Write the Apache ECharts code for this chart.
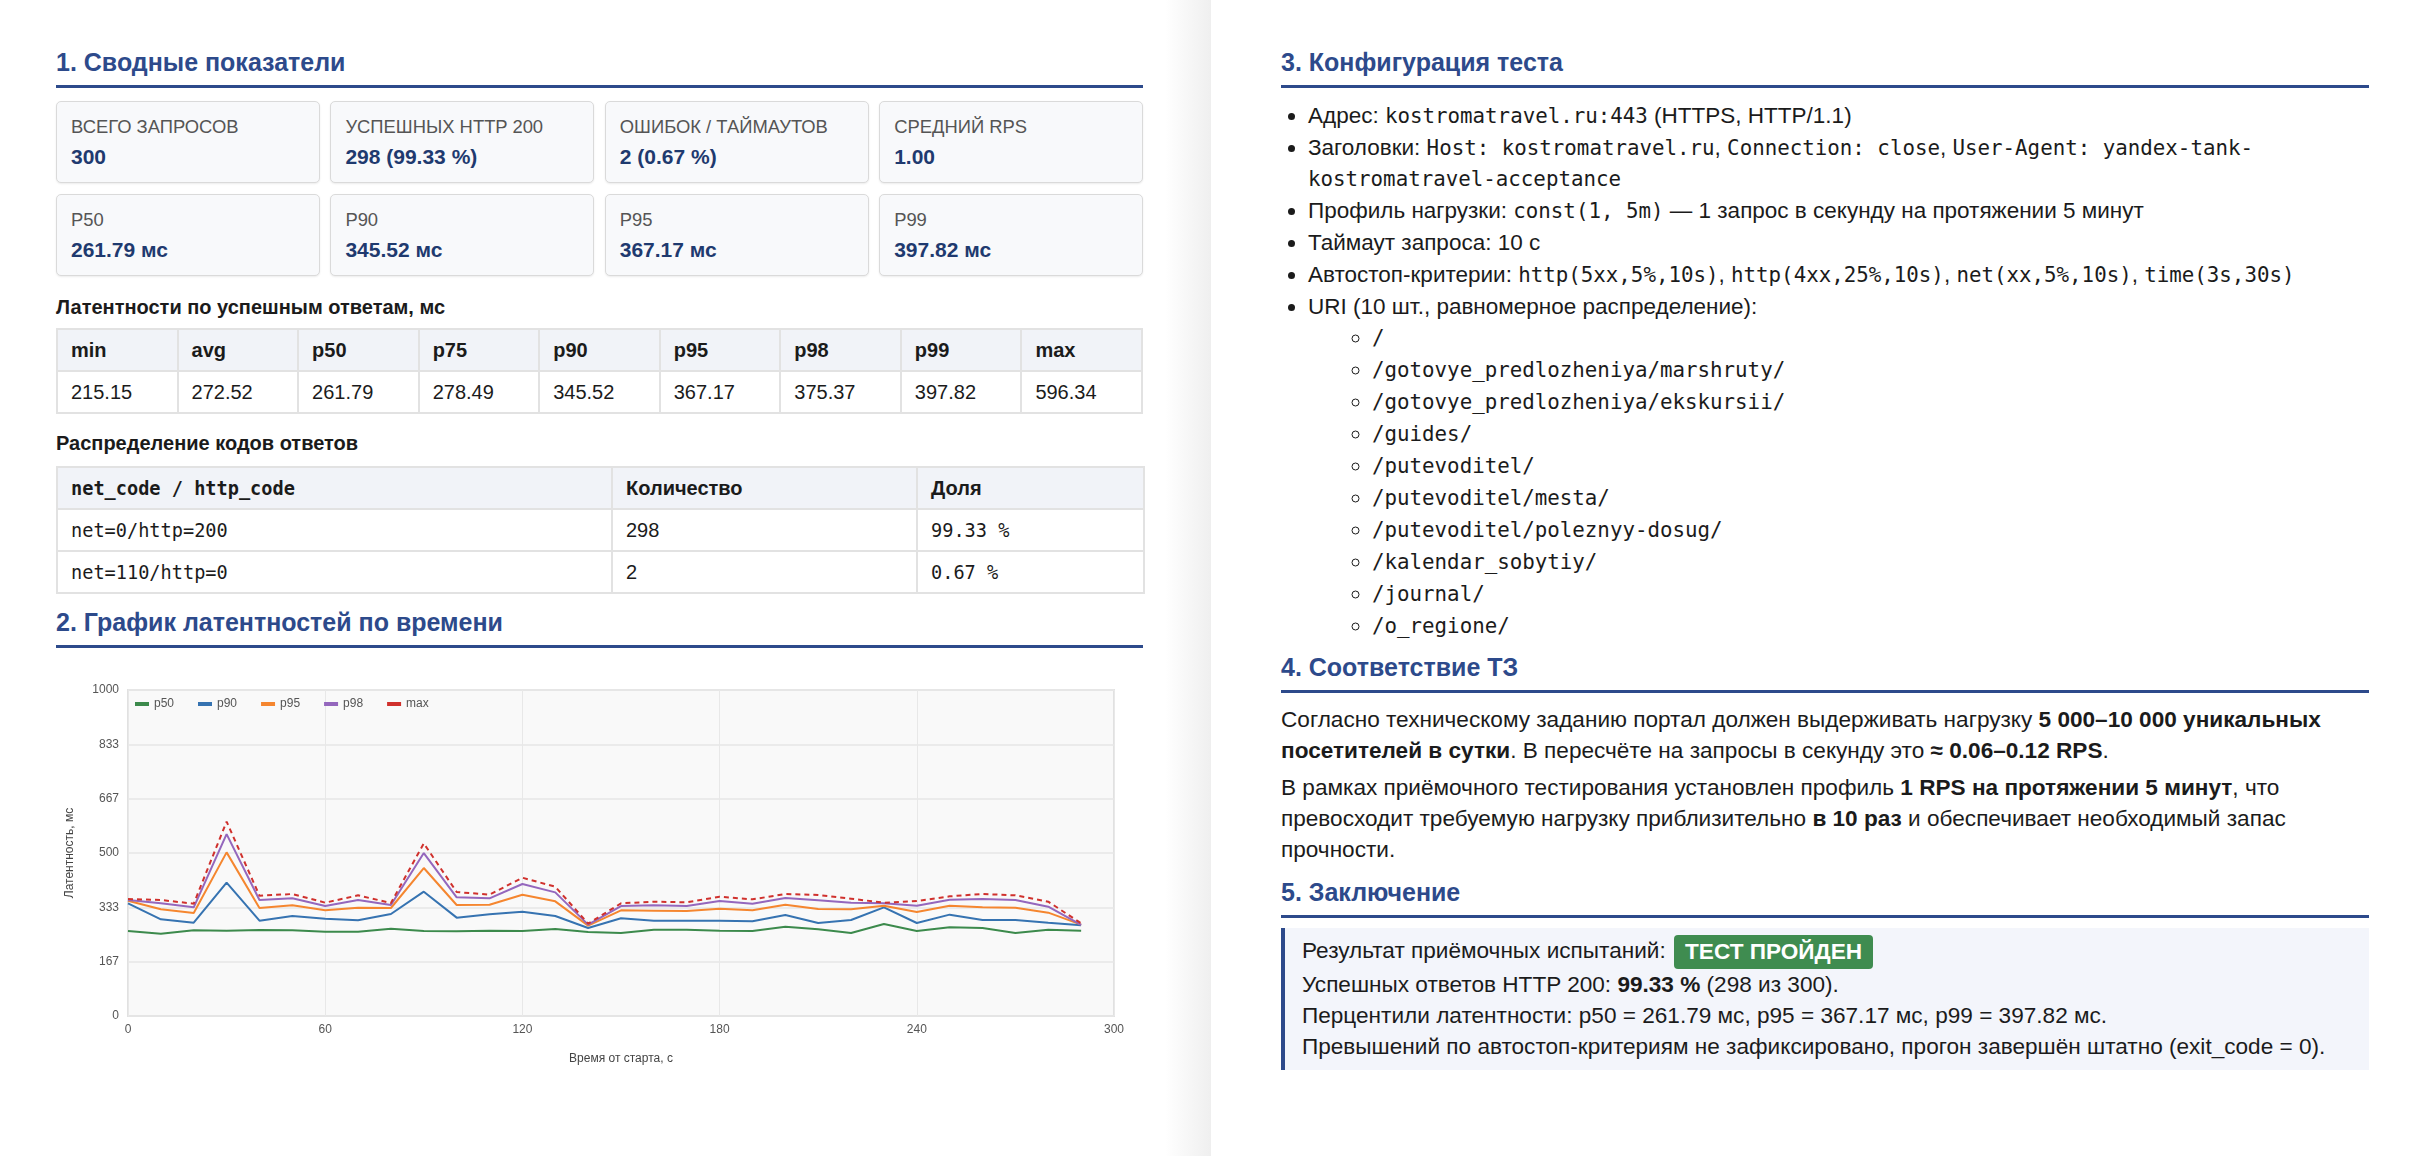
<!DOCTYPE html>
<html lang="ru">
<head>
<meta charset="utf-8">
<title>Отчёт о нагрузочном тестировании</title>
<script src="https://cdn.jsdelivr.net/npm/echarts@6/dist/echarts.min.js"></script>
<style>
  html, body { margin: 0; padding: 0; }
  body { width: 2424px; height: 1156px; overflow: hidden; position: relative;
         font-family: "Liberation Sans", Arial, Helvetica, sans-serif; color: #1b1b1b; background: #fff; }
  code, .mono { font-family: "DejaVu Sans Mono", monospace; }
  .page-left { position: absolute; left: 0; top: 0; width: 1211px; height: 1156px;
               background: linear-gradient(to right, #fff 0, #fff 1165px, #efefef 1211px); }
  .page-right { position: absolute; left: 1211px; top: 0; width: 1213px; height: 1156px; background: #fff; }
  .h { position: absolute; margin: 0; font-size: 25px; font-weight: bold; color: #2d4a8b;
       line-height: 36px; padding-bottom: 5px; border-bottom: 3px solid #2d4a8b; }
  .l { left: 56px; width: 1087px; }
  .r { left: 1281px; width: 1088px; }
  .cards { position: absolute; left: 56px; width: 1087px; display: flex; gap: 10.5px; }
  .card { flex: 1; height: 80px; border: 1px solid #dadada; border-radius: 5px; background: #f8f9fb;
          box-shadow: 0 1px 2px rgba(0,0,0,.08); position: relative; }
  .card .lab { position: absolute; left: 14px; top: 13px; font-size: 18.4px; color: #555; text-transform: uppercase; line-height: 24px; }
  .card .val { position: absolute; left: 14px; top: 42px; font-size: 21px; font-weight: bold; color: #1f3a6f; line-height: 26px; }
  .sub { position: absolute; left: 56px; margin: 0; font-size: 20px; font-weight: bold; line-height: 24px; }
  table { position: absolute; left: 56px; width: 1087px; border-collapse: collapse; font-size: 20px; table-layout: fixed; }
  td, th { border: 2px solid #e2e2e2; padding: 0 13px; height: 40px; text-align: left; }
  th { background: #f1f3f8; font-weight: bold; }
  td.mono, th.mono { font-size: 18.6px; }
  #chart { position: absolute; left: 56px; top: 660px; width: 1087px; height: 430px; }
  ul { margin: 0; padding: 0; list-style: disc; }
  .cfg { position: absolute; left: 1281px; top: 100px; width: 1088px; font-size: 22.5px; line-height: 31px; }
  .cfg > li { margin-left: 27px; margin-bottom: 1px; }
  .cfg ul { list-style: circle; }
  .cfg ul li { margin-left: 64px; margin-bottom: 1px; }
  .cfg code { font-size: 20.8px; line-height: 1; }
  .txt { position: absolute; left: 1281px; width: 1088px; margin: 0; font-size: 22.6px; line-height: 31px; white-space: nowrap; }
  .box { position: absolute; left: 1281px; top: 928px; width: 1067px; height: 129px; background: #f3f5fb;
         border-left: 4px solid #2d4a8b; padding: 5px 0 8px 17px; font-size: 22.6px; line-height: 31px; box-sizing: content-box; }
  .box div { white-space: nowrap; }
  .box .first { height: 36px; line-height: 36px; }
  .badge { display: inline-block; background: #3f8c50; color: #fff; font-weight: bold; border-radius: 4px;
           padding: 0 11px; line-height: 34px; height: 34px; vertical-align: middle; margin-left: 2px; }
</style>
</head>
<body>
<div class="page-left"></div>
<div class="page-right"></div>

<h2 class="h l" style="top:44px">1. Сводные показатели</h2>
<div class="cards" style="top:101px">
  <div class="card"><div class="lab">Всего запросов</div><div class="val">300</div></div>
  <div class="card"><div class="lab">Успешных HTTP 200</div><div class="val">298 (99.33 %)</div></div>
  <div class="card"><div class="lab">Ошибок / таймаутов</div><div class="val">2 (0.67 %)</div></div>
  <div class="card"><div class="lab">Средний RPS</div><div class="val">1.00</div></div>
</div>
<div class="cards" style="top:194px">
  <div class="card"><div class="lab">P50</div><div class="val">261.79 мс</div></div>
  <div class="card"><div class="lab">P90</div><div class="val">345.52 мс</div></div>
  <div class="card"><div class="lab">P95</div><div class="val">367.17 мс</div></div>
  <div class="card"><div class="lab">P99</div><div class="val">397.82 мс</div></div>
</div>

<h3 class="sub" style="top:295px">Латентности по успешным ответам, мс</h3>
<table style="top:328px">
  <tr><th>min</th><th>avg</th><th>p50</th><th>p75</th><th>p90</th><th>p95</th><th>p98</th><th>p99</th><th>max</th></tr>
  <tr><td>215.15</td><td>272.52</td><td>261.79</td><td>278.49</td><td>345.52</td><td>367.17</td><td>375.37</td><td>397.82</td><td>596.34</td></tr>
</table>

<h3 class="sub" style="top:431px">Распределение кодов ответов</h3>
<table style="top:466px">
  <colgroup><col style="width:555px"><col style="width:305px"><col style="width:227px"></colgroup>
  <tr><th class="mono">net_code / http_code</th><th>Количество</th><th>Доля</th></tr>
  <tr><td class="mono">net=0/http=200</td><td>298</td><td class="mono">99.33 %</td></tr>
  <tr><td class="mono">net=110/http=0</td><td>2</td><td class="mono">0.67 %</td></tr>
</table>

<h2 class="h l" style="top:604px">2. График латентностей по времени</h2>
<div id="chart"></div>

<h2 class="h r" style="top:44px">3. Конфигурация теста</h2>
<ul class="cfg">
  <li>Адрес: <code>kostromatravel.ru:443</code> (HTTPS, HTTP/1.1)</li>
  <li>Заголовки: <code>Host: kostromatravel.ru</code>, <code>Connection: close</code>, <code>User-Agent: yandex-tank-</code><br><code>kostromatravel-acceptance</code></li>
  <li>Профиль нагрузки: <code>const(1, 5m)</code> — 1 запрос в секунду на протяжении 5 минут</li>
  <li>Таймаут запроса: 10 с</li>
  <li>Автостоп-критерии: <code>http(5xx,5%,10s)</code>, <code>http(4xx,25%,10s)</code>, <code>net(xx,5%,10s)</code>, <code>time(3s,30s)</code></li>
  <li>URI (10 шт., равномерное распределение):
    <ul>
      <li><code>/</code></li>
      <li><code>/gotovye_predlozheniya/marshruty/</code></li>
      <li><code>/gotovye_predlozheniya/ekskursii/</code></li>
      <li><code>/guides/</code></li>
      <li><code>/putevoditel/</code></li>
      <li><code>/putevoditel/mesta/</code></li>
      <li><code>/putevoditel/poleznyy-dosug/</code></li>
      <li><code>/kalendar_sobytiy/</code></li>
      <li><code>/journal/</code></li>
      <li><code>/o_regione/</code></li>
    </ul>
  </li>
</ul>

<h2 class="h r" style="top:649px">4. Соответствие ТЗ</h2>
<p class="txt" style="top:704px">Согласно техническому заданию портал должен выдерживать нагрузку <b>5 000–10 000 уникальных</b><br><b>посетителей в сутки</b>. В пересчёте на запросы в секунду это <b>≈ 0.06–0.12 RPS</b>.</p>
<p class="txt" style="top:772px">В рамках приёмочного тестирования установлен профиль <b>1 RPS на протяжении 5 минут</b>, что<br>превосходит требуемую нагрузку приблизительно <b>в 10 раз</b> и обеспечивает необходимый запас<br>прочности.</p>

<h2 class="h r" style="top:874px">5. Заключение</h2>
<div class="box">
  <div class="first">Результат приёмочных испытаний: <span class="badge">ТЕСТ ПРОЙДЕН</span></div>
  <div>Успешных ответов HTTP 200: <b>99.33 %</b> (298 из 300).</div>
  <div>Перцентили латентности: p50 = 261.79 мс, p95 = 367.17 мс, p99 = 397.82 мс.</div>
  <div>Превышений по автостоп-критериям не зафиксировано, прогон завершён штатно (exit_code = 0).</div>
</div>

<script>
// время от старта, с
var times = [0, 10, 20, 30, 40, 50, 60, 70, 80, 90, 100, 110, 120, 130, 140,
             150, 160, 170, 180, 190, 200, 210, 220, 230, 240, 250, 260, 270, 280, 290];
// латентности, мс
var p50 = [260.8, 252.6, 262.9, 261.8, 263.9, 262.9, 258.8, 258.8, 268.0, 260.8, 259.8, 261.8, 260.8, 267.0, 257.8,
           254.7, 264.9, 264.9, 261.8, 260.8, 274.1, 265.9, 254.7, 282.2, 260.8, 272.0, 270.0, 254.7, 264.9, 261.8];
var p90 = [345.6, 296.6, 286.3, 408.9, 292.5, 306.8, 298.6, 293.5, 312.9, 381.3, 301.7, 311.9, 320.0, 306.8, 270.0,
           299.6, 292.5, 292.5, 292.5, 290.4, 309.8, 285.3, 294.5, 333.3, 285.3, 310.9, 294.5, 294.5, 286.3, 278.2];
var p95 = [353.8, 327.2, 316.0, 501.9, 331.3, 339.5, 324.1, 332.3, 331.3, 453.9, 340.5, 341.5, 372.1, 351.7, 277.1,
           324.1, 323.1, 322.1, 329.2, 324.1, 341.5, 328.2, 327.2, 338.4, 319.0, 338.4, 333.3, 332.3, 317.0, 280.2];
var p98 = [355.8, 345.6, 333.3, 558.0, 355.8, 360.9, 337.4, 355.8, 340.5, 499.8, 364.0, 360.9, 404.8, 379.3, 280.2,
           337.4, 339.5, 337.4, 352.7, 344.6, 361.9, 354.8, 347.6, 345.6, 338.4, 356.9, 358.9, 355.8, 335.4, 279.2];
var pmax = [358.9, 355.8, 344.6, 596.3, 369.1, 374.2, 347.6, 370.1, 346.6, 529.4, 380.3, 372.1, 424.2, 396.7, 283.3,
            345.6, 350.7, 348.7, 366.0, 357.8, 374.2, 371.1, 359.9, 347.6, 352.7, 367.0, 374.2, 370.1, 350.7, 284.3];
var seriesNames = ['p50', 'p90', 'p95', 'p98', 'max'];
var seriesColors = ['#3c8a4c', '#3673b1', '#f5862f', '#9467bd', '#d0312d'];

function pairs(values) {
	return times.map(function(t, i) { return [t, values[i]]; });
}

var latencyChart = echarts.init(document.getElementById('chart'));
var allValues = [p50, p90, p95, p98, pmax];
var latencyOption = {
	animation : false,
	textStyle : { fontFamily : 'Liberation Sans, Arial, sans-serif' },
	legend : {
		data : seriesNames,
		left : 79,
		top : 38,
		padding : 0,
		icon : 'rect',
		itemWidth : 14,
		itemHeight : 4,
		itemGap : 24,
		textStyle : { fontSize : 12, color : '#555' }
	},
	grid : {
		left : 69,
		right : 29,
		top : 30,
		bottom : 74,
		show : true,
		backgroundColor : '#f9f9f9',
		borderColor : '#e1e1e1',
		borderWidth : 2
	},
	xAxis : {
		type : 'value',
		min : 0,
		max : 300,
		interval : 60,
		name : 'Время от старта, с',
		nameLocation : 'middle',
		nameGap : 37,
		nameTextStyle : { fontSize : 12, color : '#444' },
		axisLine : { show : false },
		axisTick : { show : false },
		axisLabel : { fontSize : 12, color : '#555', margin : 8 },
		splitLine : { lineStyle : { color : '#e8e8e8' } }
	},
	yAxis : {
		type : 'value',
		min : 0,
		max : 1000,
		interval : 1000 / 6,
		name : 'Латентность, мс',
		nameLocation : 'middle',
		nameGap : 52,
		nameTextStyle : { fontSize : 12, color : '#444' },
		axisLine : { show : false },
		axisTick : { show : false },
		axisLabel : {
			fontSize : 12,
			color : '#555',
			margin : 9,
			formatter : function(v) { return Math.round(v); }
		},
		splitLine : { lineStyle : { color : '#e6e6e6', width : 1.5 } }
	},
	series : seriesNames.map(function(name, i) {
		return {
			type : 'line',
			name : name,
			data : pairs(allValues[i]),
			showSymbol : false,
			symbol : 'none',
			color : seriesColors[i],
			lineStyle : {
				width : 2,
				type : name === 'max' ? [5, 4] : 'solid'
			}
		};
	})
};
latencyChart.setOption(latencyOption);

window.onresize = function() {
	latencyChart.resize();
};
</script>
</body>
</html>
